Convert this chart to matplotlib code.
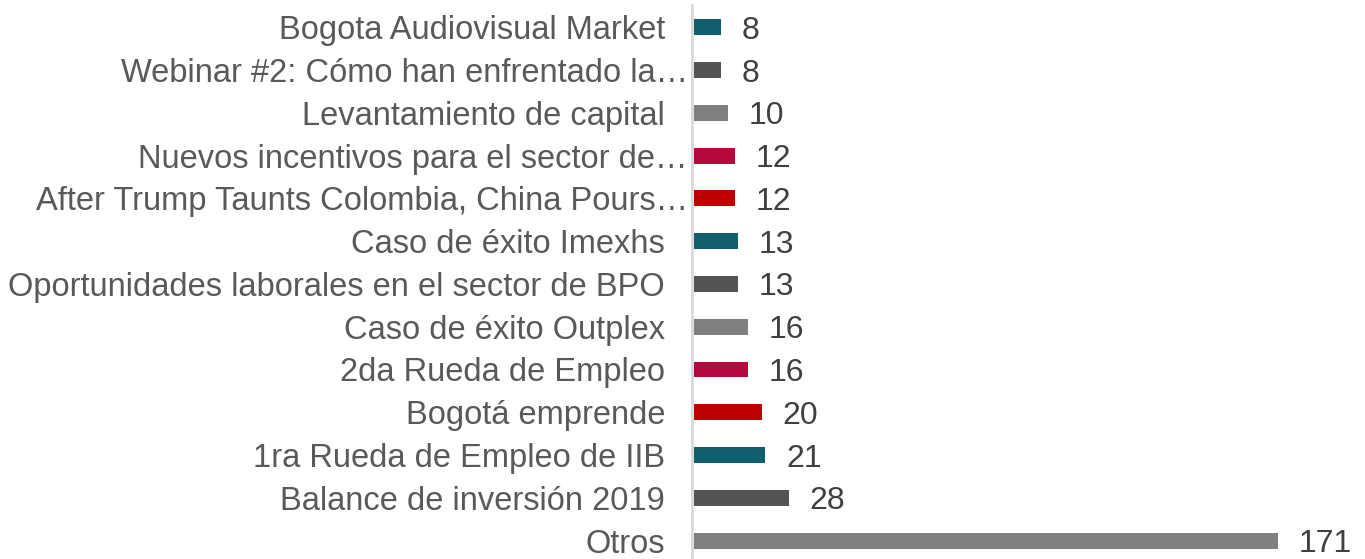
import matplotlib
matplotlib.use("Agg")
import matplotlib.pyplot as plt
from matplotlib.transforms import ScaledTranslation

# data, top to bottom as shown
categories = [
    "Bogota Audiovisual Market",
    "Webinar #2: Cómo han enfrentado la…",
    "Levantamiento de capital",
    "Nuevos incentivos para el sector de…",
    "After Trump Taunts Colombia, China Pours…",
    "Caso de éxito Imexhs",
    "Oportunidades laborales en el sector de BPO",
    "Caso de éxito Outplex",
    "2da Rueda de Empleo",
    "Bogotá emprende",
    "1ra Rueda de Empleo de IIB",
    "Balance de inversión 2019",
    "Otros",
]
values = [8, 8, 10, 12, 12, 13, 13, 16, 16, 20, 21, 28, 171]

TEAL   = "#115E6E"
DARK   = "#545454"
GREY   = "#808080"
CRIMS  = "#B5083C"
RED    = "#BC0000"
palette = [TEAL, DARK, GREY, CRIMS, RED]
bar_colors = [palette[i % 5] for i in range(len(values))]

plt.rcParams["font.family"] = ["Liberation Sans", "DejaVu Sans"]

fig = plt.figure(figsize=(13.65, 5.59), dpi=100)
ax = fig.add_axes([692 / 1365, -6 / 559, 1 - 692 / 1365, 560 / 559])

for s in ["top", "right", "bottom"]:
    ax.spines[s].set_visible(False)
ax.spines["left"].set_color("#D9D9D9")
ax.spines["left"].set_linewidth(2)

ypos = list(range(len(values)))
ax.barh(ypos, values, height=0.37, color=bar_colors, zorder=2)

ax.set_ylim(len(values) - 0.5 + 0.07, -0.5 - 0.02)
ax.set_xlim(-0.5, 196.5)
ax.set_yticks([])
ax.set_xticks([])

# category labels; truncated ones (ending in …) run up to the axis line
ytrans = ax.get_yaxis_transform()
for y, lab in zip(ypos, categories):
    gap = 4 if lab.endswith("…") else 27
    off = ScaledTranslation(-gap / 100, 0, fig.dpi_scale_trans)
    ax.text(0, y, lab, transform=ytrans + off, ha="right", va="center_baseline",
            fontsize=23.5, color="#595959", clip_on=False)

for y, v in zip(ypos, values):
    ax.text(v + 6, y, str(v), va="center_baseline", ha="left",
            fontsize=23, color="#404040", clip_on=False)

fig.savefig("out.png", dpi=100)
